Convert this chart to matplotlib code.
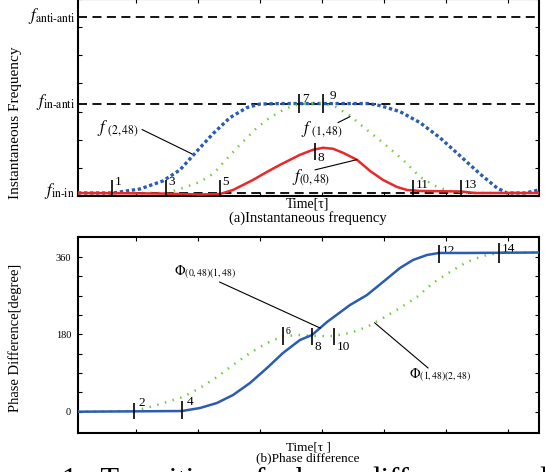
import matplotlib
matplotlib.use("Agg")
import matplotlib.pyplot as plt

plt.rcParams['font.family'] = ['Liberation Serif', 'DejaVu Serif']
plt.rcParams['mathtext.fontset'] = 'stix'

# ---------------- data: (a) instantaneous frequency ----------------
f_levels = [0.118, 3.286, 6.346]
f_level_labels = [r'$f_{\mathrm{in\text{-}in}}$', r'$f_{\mathrm{in\text{-}anti}}$',
                  r'$f_{\mathrm{anti\text{-}anti}}$']

t_f248 = [-0.935, -0.371, 0.065, 0.435, 0.710, 0.871, 1.032, 1.242, 1.516, 1.790, 2.0, 2.323,
          2.968, 3.742, 3.935, 4.258, 4.581, 4.903, 5.226, 5.548, 5.823, 5.984, 6.274, 6.5]
f248 = [0.107, 0.107, 0.25, 0.536, 0.929, 1.321, 1.714, 2.214, 2.786, 3.143, 3.268, 3.286,
        3.286, 3.286, 3.214, 3.0, 2.607, 2.071, 1.429, 0.786, 0.286, 0.107, 0.107, 0.214]

t_f148 = [-0.935, 0.484, 0.710, 1.032, 1.242, 1.435, 1.629, 1.790, 1.952, 2.161, 2.323, 2.532,
          2.726, 2.968, 3.210, 3.452, 3.661, 3.984, 4.306, 4.581, 4.855, 5.065, 5.387, 6.5]
f148 = [0.107, 0.107, 0.25, 0.5, 0.786, 1.25, 1.714, 2.071, 2.429, 2.786, 3.0, 3.214,
        3.286, 3.304, 3.179, 2.857, 2.464, 1.893, 1.286, 0.679, 0.321, 0.179, 0.107, 0.107]

t_f048 = [-0.935, 0.387, 1.032, 1.355, 1.565, 1.887, 2.113, 2.323, 2.645, 2.855, 3.016, 3.177,
          3.339, 3.565, 3.774, 3.984, 4.210, 4.371, 4.581, 5.242, 5.468, 6.5]
f048 = [0.107, 0.089, 0.054, 0.071, 0.214, 0.571, 0.857, 1.107, 1.464, 1.643, 1.714, 1.679,
        1.536, 1.286, 0.893, 0.571, 0.321, 0.214, 0.179, 0.161, 0.107, 0.107]

# event markers in (a): label, time, low, high
ev_a_labels = ['1', '3', '5', '7', '9', '8', '11', '13']
ev_a_time = [-0.38, 0.48, 1.35, 2.63, 3.01, 2.89, 4.46, 5.24]
ev_a_lo = [0.0, 0.0, 0.0, 2.96, 2.96, 1.29, 0.0, 0.0]
ev_a_hi = [0.57, 0.57, 0.57, 3.61, 3.61, 1.89, 0.57, 0.57]

# ---------------- data: (b) phase difference ----------------
t_p01 = [-0.935, 0.742, 1.032, 1.306, 1.565, 1.839, 2.113, 2.371, 2.645, 2.839, 3.081, 3.452,
         3.726, 3.984, 4.258, 4.468, 4.694, 4.887, 5.339, 6.5]
p01 = [0, 1.6, 8.6, 20.3, 38.9, 66.9, 101.8, 136.8, 167.1, 178.7, 209.0, 248.6,
       271.9, 302.2, 334.8, 353.5, 365.1, 369.8, 369.8, 370.9]

t_p12 = [-0.935, -0.032, 0.226, 0.5, 0.758, 1.032, 1.306, 1.565, 1.839, 2.113, 2.371, 2.645,
         2.855, 3.177, 3.452, 3.726, 3.984, 4.258, 4.532, 4.790, 5.065, 5.339, 5.597, 5.855, 6.5]
p12 = [0, 1.6, 11, 22.6, 34.3, 55.2, 80.9, 108.8, 136.8, 160.1, 176.4, 178.7,
       176.4, 176.4, 183.4, 197.4, 218.4, 241.6, 267.3, 299.9, 325.5, 348.8, 362.8, 369.8, 370.9]

ev_b_labels = ['2', '4', '6', '8', '10', '12', '14']
ev_b_time = [-0.03, 0.75, 2.37, 2.84, 3.19, 4.89, 5.85]
ev_b_lo = [-17, -17, 155, 155, 155, 346, 346]
ev_b_hi = [20, 25, 197, 195, 195, 388, 392]

phase_ticks = [0, 45, 90, 135, 180, 225, 270, 315, 360]
phase_tick_labels = ['0', '', '', '', '180', '', '', '', '360']

BLUE = '#2b5cb3'
GREEN = '#6fcc3a'
RED = '#e8282a'

fig = plt.figure(figsize=(5.45, 4.72), dpi=100)
W, H = 545.0, 472.0

def style(ax):
    ax.set_xlim(-0.935, 6.5)
    ax.set_xticks(range(0, 7))
    ax.tick_params(direction='in', top=True, right=True, length=3, width=0.8,
                   labelbottom=False, labelleft=False)
    for s in ax.spines.values():
        s.set_linewidth(1.5)

def leader(ax, text, txy, p0, p1, fs):
    ax.text(txy[0], txy[1], text, ha='center', va='center', fontsize=fs, zorder=6)
    ax.plot([p0[0], p1[0]], [p0[1], p1[1]], color='k', lw=0.8, zorder=6)

# ---------- panel (a) ----------
ax1 = fig.add_axes([78 / W, 1 - 196 / H, 461 / W, 196 / H + 0.002])
style(ax1)
ax1.set_ylim(0, 7)
ax1.set_yticks(range(0, 8))
for lv, lab in zip(f_levels, f_level_labels):
    ax1.axhline(lv, color='k', lw=1.3, dashes=(5, 3), zorder=1)
    ax1.annotate(lab, xy=(0, lv), xycoords=('axes fraction', 'data'), xytext=(-2, 1),
                 textcoords='offset points', ha='right', va='center', fontsize=12)

ax1.plot(t_f248, f248, color=BLUE, lw=2.4, dashes=(1.0, 0.8), zorder=3)
ax1.plot(t_f148, f148, color=GREEN, lw=1.8, dashes=(0.6, 2.6), zorder=3)
ax1.plot(t_f048, f048, color=RED, lw=1.8, zorder=4)

ax1.vlines(ev_a_time, ev_a_lo, ev_a_hi, color='k', lw=1.2, zorder=5)
for lab, t, lo, hi in zip(ev_a_labels, ev_a_time, ev_a_lo, ev_a_hi):
    if lab in ('7', '9'):
        xy, off, va = (t, hi), ((2, 1) if lab == '7' else (5, 3)), 'top'
    elif lab == '8':
        xy, off, va = (t, lo), (2, 1), 'center'
    else:
        xy, off, va = (t, lo + 0.3), ((2, 4) if lab in ('1', '3', '5') else (2, 2)), 'center'
    ax1.annotate(lab, xy=xy, xytext=off, textcoords='offset points',
                 ha='left', va=va, fontsize=9.5)

# curve labels (a)
leader(ax1, r'$f\;{}_{\mathrm{(2,48)}}$', (-0.29, 2.39), (0.10, 2.36), (0.90, 1.50), 12)
leader(ax1, r'$f\;{}_{\mathrm{(1,48)}}$', (3.0, 2.36), (3.26, 2.61), (3.45, 2.82), 12)
leader(ax1, r'$f_{\mathrm{(0,48)}}$', (2.82, 0.64), (2.89, 0.93), (3.56, 1.29), 12)

ax1.set_ylabel('Instantaneous Frequency', fontsize=11)
ax1.yaxis.set_label_coords(-0.121, 0.372)
fig.text(308 / W, 1 - 204 / H, 'Time[τ]', ha='center', va='center', fontsize=10)
fig.text(308 / W, 1 - 218 / H, '(a)Instantaneous frequency', ha='center', va='center', fontsize=10.5)

# ---------- panel (b) ----------
ax2 = fig.add_axes([78 / W, 1 - 433 / H, 461 / W, 196 / H])
style(ax2)
ax2.set_ylim(-49.6, 407)
ax2.set_yticks(phase_ticks)
ax2.set_yticklabels(phase_tick_labels)
ax2.tick_params(labelleft=True, labelsize=7.5, pad=5)

ax2.plot(t_p12, p12, color=GREEN, lw=1.8, dashes=(0.6, 2.6), zorder=3)
ax2.plot(t_p01, p01, color=BLUE, lw=1.8, zorder=4)

ax2.vlines(ev_b_time, ev_b_lo, ev_b_hi, color='k', lw=1.2, zorder=5)
for lab, t, lo, hi in zip(ev_b_labels, ev_b_time, ev_b_lo, ev_b_hi):
    if lab in ('8', '10'):
        xy, off, va = (t, lo - 4), (2, 0), 'center'
    elif lab in ('2', '4'):
        xy, off, va = (t, 0), (3, 2 if lab == '2' else 3), 'bottom'
    else:
        xy, off, va = (t, hi), (2, 0), 'top'
    ax2.annotate(lab, xy=xy, xytext=off, textcoords='offset points',
                 ha='left', va=va, fontsize=7 if lab == '6' else 9.5)

leader(ax2, r'$\Phi_{\mathrm{(0,48)(1,48)}}$', (1.11, 325), (1.35, 302), (2.97, 195), 10)
leader(ax2, r'$\Phi_{\mathrm{(1,48)(2,48)}}$', (4.9, 85), (4.71, 102), (3.85, 207), 10)

ax2.set_ylabel('Phase Difference[degree]', fontsize=10.5)
ax2.yaxis.set_label_coords(-0.121, 0.485)
fig.text(308 / W, 1 - 447 / H, 'Time[τ ]', ha='center', va='center', fontsize=9.5)
fig.text(308 / W, 1 - 458 / H, '(b)Phase difference', ha='center', va='center', fontsize=9.5)

fig.text(62 / W, 1 - 489 / H, '1:  Transition  of  phase  difference  and  frequency',
         ha='left', va='baseline', fontsize=22)

fig.savefig('out.png', dpi=100)
